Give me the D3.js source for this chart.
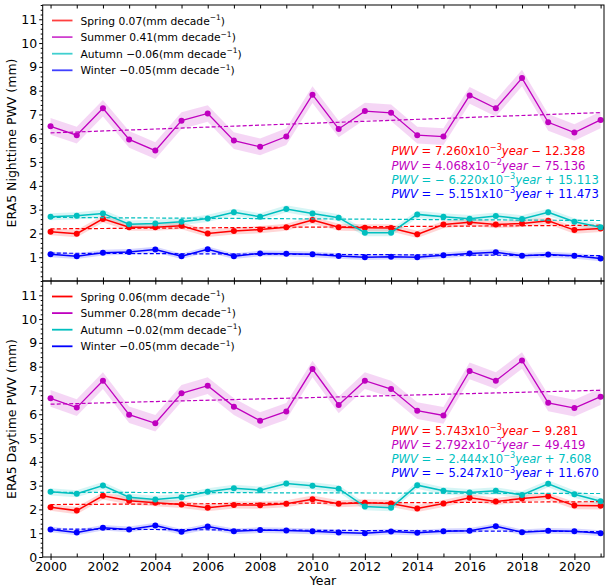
<!DOCTYPE html>
<html><head><meta charset="utf-8">
<script src="https://cdn.jsdelivr.net/npm/d3@7"></script>
<style>body{margin:0;background:#fff} text{font-family:"DejaVu Sans",sans-serif}</style>
</head><body><svg id="c" width="606" height="588"></svg>
<script>
const years = [2000,2001,2002,2003,2004,2005,2006,2007,2008,2009,2010,2011,2012,2013,2014,2015,2016,2017,2018,2019,2020,2021];
const seasons = ["Spring","Summer","Autumn","Winter"];
const colors = ["#ff0000","#bf00bf","#00bfbf","#0000ff"];
const bandHalf = [0.15, 0.35, 0.15, 0.12];

// Nighttime
const nightSpring = [2.07,1.99,2.61,2.26,2.26,2.32,2.00,2.10,2.16,2.26,2.56,2.26,2.24,2.23,1.96,2.37,2.47,2.37,2.42,2.53,2.14,2.21];
const nightSummer = [6.50,6.13,7.26,5.95,5.48,6.74,7.04,5.90,5.64,6.07,7.83,6.39,7.14,7.07,6.13,6.07,7.80,7.26,8.53,6.67,6.24,6.77];
const nightAutumn = [2.70,2.74,2.84,2.39,2.42,2.49,2.63,2.89,2.70,3.03,2.84,2.66,2.03,2.03,2.80,2.70,2.62,2.73,2.61,2.89,2.49,2.26];
const nightWinter = [1.12,1.04,1.19,1.22,1.32,1.04,1.33,1.04,1.16,1.15,1.12,1.05,1.00,1.02,1.00,1.08,1.16,1.21,1.06,1.11,1.06,0.95];
const nightTrend = ["0.07","0.41","\u22120.06","\u22120.05"];
const nightSlope = [7.260e-3, 4.068e-2, -6.220e-3, -5.151e-3];
const nightIntercept = [-12.328, -75.136, 15.113, 11.473];

// Daytime
const daySpring = [2.09,1.95,2.57,2.36,2.28,2.21,2.07,2.19,2.18,2.24,2.43,2.24,2.28,2.25,2.04,2.25,2.49,2.33,2.46,2.55,2.16,2.15];
const daySummer = [6.67,6.28,7.41,5.98,5.62,6.88,7.20,6.32,5.73,6.12,7.90,6.39,7.41,7.06,6.15,5.95,7.82,7.41,8.26,6.48,6.26,6.74];
const dayAutumn = [2.74,2.66,3.00,2.51,2.42,2.51,2.74,2.89,2.81,3.09,2.99,2.87,2.12,2.07,3.02,2.78,2.71,2.78,2.61,3.08,2.64,2.34];
const dayWinter = [1.16,1.03,1.23,1.16,1.32,1.06,1.28,1.08,1.13,1.11,1.08,1.03,1.00,1.07,1.02,1.08,1.10,1.29,1.04,1.10,1.08,1.00];
const dayTrend = ["0.06","0.28","\u22120.02","\u22120.05"];
const daySlope = [5.743e-3, 2.792e-2, -2.444e-3, -5.247e-3];
const dayIntercept = [-9.281, -49.419, 7.608, 11.670];

const yTicksTop = [1,2,3,4,5,6,7,8,9,10,11];
const yTicksBottom = [0,1,2,3,4,5,6,7,8,9,10,11];
const xTickLabels = [2000,2002,2004,2006,2008,2010,2012,2014,2016,2018,2020];

const svg = d3.select("#c");
const left = 42.7, right = 604;
const x = d3.scaleLinear().domain([1999.7, 2021.13]).range([left, right]);

const panels = [
  {top:5, bottom:281, label:"ERA5 Nighttime PWV (mm)", series:[nightSpring,nightSummer,nightAutumn,nightWinter],
   trend:nightTrend, slope:nightSlope, icpt:nightIntercept, yTicks:yTicksTop, eqY:155.2, legOp:0.75, xLabels:false},
  {top:281, bottom:557, label:"ERA5 Daytime PWV (mm)", series:[daySpring,daySummer,dayAutumn,dayWinter],
   trend:dayTrend, slope:daySlope, icpt:dayIntercept, yTicks:yTicksBottom, eqY:434.5, legOp:1, xLabels:true}
];

panels.forEach(p => {
  const y = d3.scaleLinear().domain([0, 11.6]).range([p.bottom, p.top]);
  const g = svg.append("g");

  p.series.forEach((vals, i) => {
    const data = years.map((yr, k) => ({yr, v: vals[k]}));
    g.append("path").datum(data)
      .attr("d", d3.area().x(d => x(d.yr)).y0(d => y(d.v - bandHalf[i])).y1(d => y(d.v + bandHalf[i])))
      .attr("fill", colors[i]).attr("fill-opacity", 0.16).attr("stroke", "none");
  });
  p.series.forEach((vals, i) => {
    const data = years.map((yr, k) => ({yr, v: vals[k]}));
    const tr = [years[0], years[years.length-1]].map(yr => ({yr, v: p.slope[i]*yr + p.icpt[i]}));
    g.append("path").datum(tr)
      .attr("d", d3.line().x(d => x(d.yr)).y(d => y(d.v)))
      .attr("fill", "none").attr("stroke", colors[i]).attr("stroke-width", 1.2).attr("stroke-dasharray", "4,2.2");
    g.append("path").datum(data)
      .attr("d", d3.line().x(d => x(d.yr)).y(d => y(d.v)))
      .attr("fill", "none").attr("stroke", colors[i]).attr("stroke-width", i===1?1.3:1.5);
    g.selectAll(null).data(data).enter().append("circle")
      .attr("cx", d => x(d.yr)).attr("cy", d => y(d.v)).attr("r", 3).attr("fill", colors[i]);
  });

  svg.append("rect").attr("x", left).attr("y", p.top).attr("width", right-left).attr("height", p.bottom-p.top)
    .attr("fill", "none").attr("stroke", "#000").attr("stroke-width", 1);

  const ya = svg.append("g").attr("transform", `translate(${left},0)`)
    .call(d3.axisLeft(y).tickValues(p.yTicks).tickSize(3.5).tickPadding(2).tickFormat(d3.format("d")));
  ya.select(".domain").remove();
  ya.selectAll("text").attr("font-size", 12.5).attr("fill", "#000").attr("font-family", "DejaVu Sans");
  const minor = d3.range(0, 11.61, 0.2).filter(v => Math.abs(v - Math.round(v)) > 0.01);
  svg.append("g").attr("transform", `translate(${left},0)`)
    .call(d3.axisLeft(y).tickValues(minor).tickSize(2).tickFormat(""))
    .select(".domain").remove();

  const xa1 = svg.append("g").attr("transform", `translate(0,${p.top})`)
    .call(d3.axisTop(x).tickValues(years).tickSize(-3.5).tickFormat(""));
  xa1.select(".domain").remove();
  const xa2 = svg.append("g").attr("transform", `translate(0,${p.bottom})`)
    .call(d3.axisBottom(x).tickValues(years).tickSize(-3.5).tickFormat(""));
  xa2.select(".domain").remove();
  if (p.xLabels) {
    const xl = svg.append("g").attr("transform", `translate(0,${p.bottom})`)
      .call(d3.axisBottom(x).tickValues(xTickLabels).tickSize(3).tickPadding(2.5).tickFormat(d3.format("d")));
    xl.select(".domain").remove();
    xl.selectAll("text").attr("font-size", 12.5).attr("fill", "#000").attr("font-family", "DejaVu Sans");
  }

  svg.append("text").attr("transform", `translate(15.5,${(p.top+p.bottom)/2}) rotate(-90)`)
    .attr("text-anchor", "middle").attr("font-size", 12.5).text(p.label);

  seasons.forEach((s, i) => {
    const cy = p.top + 15.5 + i*16.6;
    svg.append("line").attr("x1", 52).attr("x2", 72.5).attr("y1", cy).attr("y2", cy)
      .attr("stroke", colors[i]).attr("stroke-width", 1.8).attr("stroke-opacity", p.legOp);
    const t = svg.append("text").attr("x", 80.5).attr("y", cy + 4).attr("font-size", 10.7);
    t.append("tspan").text(`${s} ${p.trend[i]}(mm decade`);
    t.append("tspan").attr("font-size", 7.5).attr("dy", -4.3).text("\u22121");
    t.append("tspan").attr("dy", 4.3).text(")");
  });

  p.slope.forEach((sl, i) => {
    const ex = Math.floor(Math.log10(Math.abs(sl)));
    const mant = sl / Math.pow(10, ex);
    const t = svg.append("text").attr("x", 391.5).attr("y", p.eqY + i*14.3)
      .attr("font-size", 11.6).attr("fill", colors[i]);
    t.append("tspan").attr("font-style", "italic").text("PWV");
    const sgnM = mant < 0 ? " \u2212 " : "";
    t.append("tspan").text(` = ${sgnM}${Math.abs(mant).toFixed(3)}x10`);
    t.append("tspan").attr("font-size", 8.2).attr("dy", -4.8).text(`\u2212${Math.abs(ex)}`);
    t.append("tspan").attr("dy", 4.8).attr("font-style", "italic").text("year");
    const ic = p.icpt[i];
    t.append("tspan").text(` ${ic < 0 ? "\u2212" : "+"} ${Math.abs(ic).toFixed(3)}`);
  });
});

svg.append("text").attr("x", 323).attr("y", 585).attr("text-anchor", "middle").attr("font-size", 12.5).text("Year");
</script></body></html>
